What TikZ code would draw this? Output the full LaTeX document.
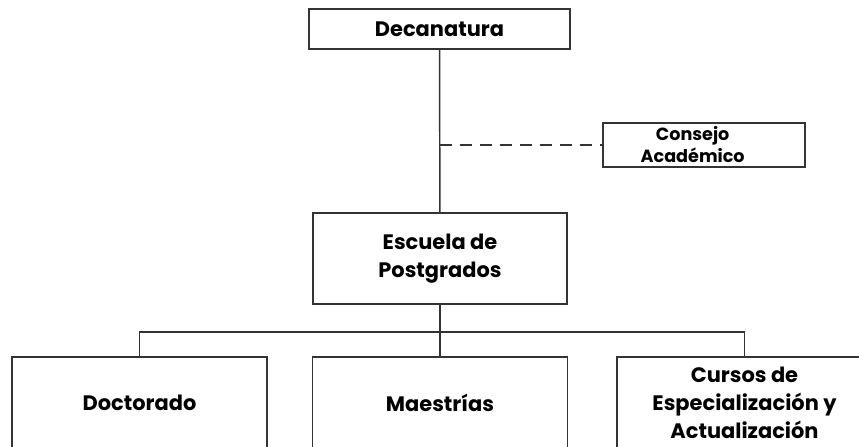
\documentclass[tikz,border=0pt]{standalone}
\usepackage{fontspec}
\setmainfont{Poppins}
\begin{document}
\begin{tikzpicture}[
  x=0.75pt, y=-0.75pt,
  caja/.style={rectangle, draw=black!80, line width=1.1pt, fill=white, align=center,
    font=\bfseries\fontsize{15.7}{21}\selectfont, inner sep=0pt},
  linea/.style={line width=1.1pt, draw=black!80}
]
  \useasboundingbox (0,0) rectangle (859,446);

  % Niveles superiores
  \node[caja, minimum width=195.75pt, minimum height=30pt] (dec) at (439.5,29) {Decanatura};
  \node[caja, minimum width=151.5pt, minimum height=33pt,
        font=\bfseries\fontsize{13.2}{16.5}\selectfont] (cons) at (704,145)
        {\hspace*{-17pt}Consejo\\\hspace*{-17pt}Académico};
  \node[caja, minimum width=190.5pt, minimum height=68.25pt] (esc) at (440,258.5) {Escuela de\\Postgrados};

  % Programas
  \node[caja, minimum width=191.25pt, minimum height=68.25pt] (doc) at (139.5,402.5) {Doctorado};
  \node[caja, minimum width=191.25pt, minimum height=68.25pt] (mae) at (440,402.5) {Maestrías};
  \node[caja, minimum width=191.25pt, minimum height=68.25pt] (cur) at (744.5,402.5) {Cursos de\\Especialización y\\Actualización};

  \coordinate (asesor) at (dec.south |- cons.west);
  \coordinate (barra) at (440,332);

  % Conexiones
  \draw[linea] (dec) -- (esc);
  \draw[linea, dash pattern=on 9pt off 6pt] (asesor) -- (cons.west);
  \draw[linea] (esc) -- (barra) -- (mae);
  \draw[linea] (doc.north) |- (barra) -| (cur.north);
\end{tikzpicture}
\end{document}
